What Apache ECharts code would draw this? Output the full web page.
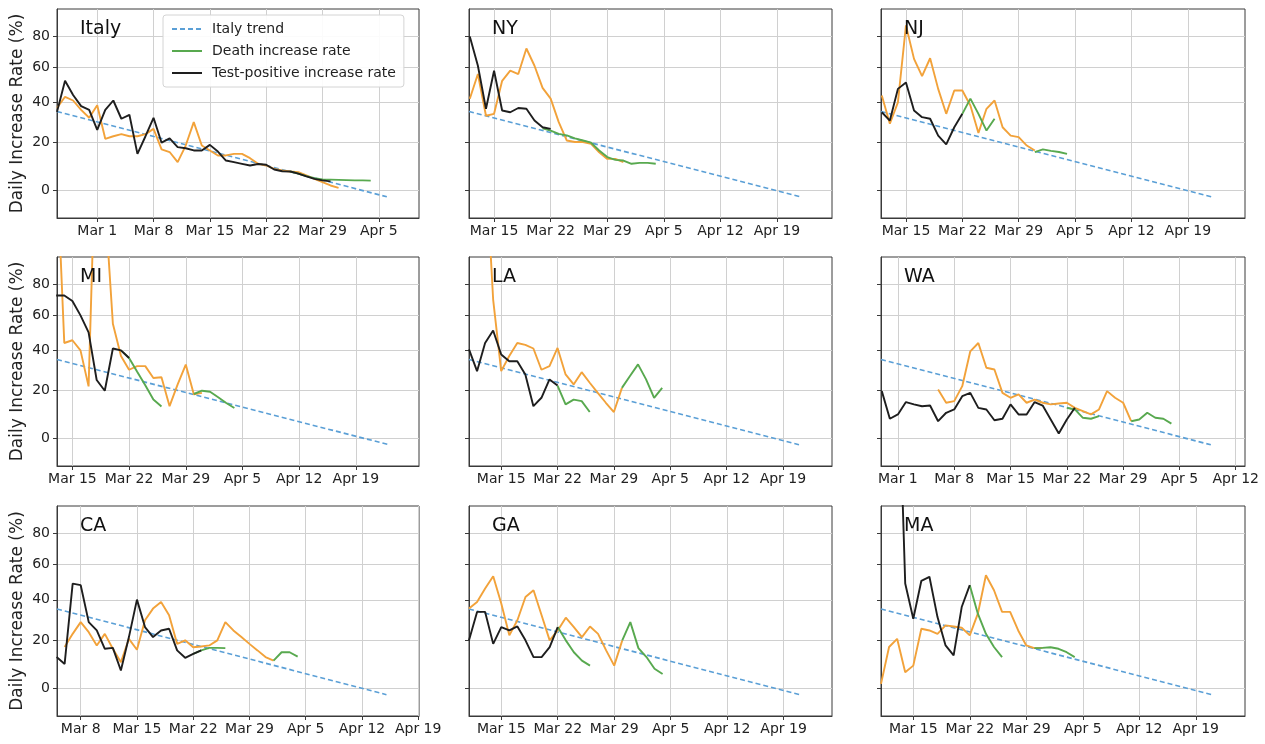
<!DOCTYPE html>
<html>
<head>
<meta charset="utf-8">
<title>Daily increase rate</title>
<script src="https://cdn.jsdelivr.net/npm/echarts@6/dist/echarts.min.js"></script>
<style>
  html, body { margin: 0; padding: 0; background: #fff; }
  #chart { width: 1265px; height: 744px; }
</style>
</head>
<body>
<div id="chart"></div>
<script>
// days are counted from Mar 1 (Mar 1 = 0, Apr 1 = 31)
const panels = ['Italy', 'NY', 'NJ', 'MI', 'LA', 'WA', 'CA', 'GA', 'MA'];
const dayMin = [-5, 10.9, 10.9, 12.1, 10, -2.1, 4.05, 10, 10];
const dayMax = [40, 55.8, 56.1, 56.8, 55.1, 43.15, 49.1, 55, 55.1];
const tickDays = [0, 7, 14, 21, 28, 35, 42, 49];
const yTicks = [0, 20, 40, 60, 80];

// Italy trend, redrawn from each panel's first day
const trendStart = 35.2;
const trendEnd = -2.4;
const trendDays = 41;

// first day of each series, per panel
const posFrom = [-5, 11, 11, 12, 10, -2, 4, 10, 12];
const lagFrom = [-5, 11, 11, 12, 12, 5, 5, 10, 10];
const deathFrom = [24, 20, 21, 20, 21, 21, 21, 21, 21];

// test-positive increase rate (%)
const italyPos = [35, 52, 44, 38, 36, 26, 36, 41, 31.5, 33.5, 15, 23, 32, 20, 22, 18, 17.5, 16.5, 16.5, 19, 16, 12.1, 11.4, 10.7, 10, 10.6, 10.3, 8.3, 7.6, 7.5, 6.6, 5.5, 4.5, 3.9, 3.5];
const nyPos = [80, 61, 36.6, 58, 35.7, 34.8, 37, 36.6, 30.6, 27.3, 26.5];
const njPos = [34.8, 30.6, 47.4, 51, 35.7, 32.3, 31.5, 23.3, 19.2, 27.3, 34];
const miPos = [72.6, 72.6, 69, 60, 50, 25, 20, 41, 40, 36];
const laPos = [40.5, 29.3, 44, 51, 37.8, 34.3, 34.3, 27.7, 13.1, 16.8, 25.3, 22.4];
const waPos = [19.8, 7.8, 9.6, 14.9, 13.9, 13.1, 13.4, 6.8, 10.3, 11.7, 17.5, 19, 12.4, 11.7, 7.2, 7.8, 13.9, 9.6, 9.6, 14.9, 13.4, 7.5, 1.9, 7.5, 12.4];
const caPos = [12.6, 9.7, 48.9, 48, 28.6, 24.6, 16.2, 16.6, 7, 21.5, 40.1, 26.2, 21.5, 24.6, 25.4, 15.5, 12.3, 14, 15.5];
const gaPos = [20, 33.7, 33.7, 18.4, 26.2, 24.6, 26.5, 20, 12.6, 12.6, 16.9, 26.2];
const maPos = [300, 49, 30.3, 50.5, 52.8, 31.1, 17.7, 13.3, 36.2, 48];

// orange curve (%)
const italyLag = [37, 43, 41, 36, 32, 38.5, 21.8, 23, 24, 23, 23, 24, 26.5, 17, 15.8, 11.4, 18.7, 29.8, 18.7, 16.5, 14.3, 14.3, 15, 15, 13.1, 10.7, 10, 8.6, 7.9, 7.5, 7.2, 5.9, 4.5, 3.2, 1.9, 1];
const nyLag = [41.9, 56, 33, 34, 52, 58, 56, 72, 61, 48, 42, 29.8, 21, 20.3, 20.3, 19.5, 15.7, 12.8, 12.8, 11.4];
const njLag = [43.7, 29, 40, 87.8, 65.3, 54.7, 65.7, 47.4, 34, 46.5, 46.5, 38.3, 24.5, 36.6, 41, 27.3, 23.3, 22.6, 18.7, 16.5];
const miLag = [200, 44, 45.5, 40, 22, 250, 150, 55, 37, 30, 31.8, 31.8, 26, 26.3, 13.1, 22.9, 32.6, 18.3, 19];
const laLag = [200, 70, 29.3, 37, 44, 43, 41, 30, 31.8, 41.3, 27.7, 22.9, 28.8, 23.7, 19, 14.6, 10.6, 21.3];
const waLag = [20.6, 14.6, 15.3, 22.1, 39.5, 44, 31, 30.1, 19, 16.8, 18.3, 14.6, 16, 14.6, 13.9, 14.3, 14.6, 12.4, 11, 9.6, 11.7, 19.8, 16.8, 14.6, 6.8];
const caLag = [17, 23, 28.6, 23.8, 17.7, 23, 16.2, 10.4, 20.7, 15.8, 29.5, 35.4, 38.8, 32, 18.4, 20, 16.9, 17.2, 17.7, 20, 28.6, 24.6, 21.5, 18.4, 15.5, 12.6, 11.1];
const gaLag = [35.4, 38.8, 46.1, 53.1, 38, 22.3, 29.5, 41.5, 45.2, 32, 20, 24.6, 30.8, 26.2, 21.5, 26.5, 23, 15.5, 9, 20];
const maLag = [1.7, 17, 20.7, 6.3, 9, 25.4, 24.6, 23, 27, 26.5, 25.9, 22.3, 32.8, 53.7, 45.2, 33.7, 33.7, 24.6, 17.7, 16.5, 16.6];

// death increase rate (%)
const italyDeath = [7.5, 6.6, 5.6, 4.8, 4.3, 4.2, 4.1, 4.0, 3.9, 3.9, 3.8];
const nyDeath = [26.8, 25.7, 24.1, 23.4, 22, 21, 20, 16.5, 13.6, 12.4, 12.1, 10.7, 11.1, 11.1, 10.7];
const njDeath = [34, 42, 34, 25.7, 31.5, null, null, null, null, 15.8, 17, 16.3, 15.8, 15];
const miDeath = [40, 36, 29, 22.5, 16, 13, null, null, null, 18.5, 20, 19.5, 17, 14.5, 12.3];
const laDeath = [22.4, 13.9, 16, 15.3, 10.6, null, null, null, 21.3, 26.9, 32.7, 25.3, 16.8, 21.3];
const waDeath = [12.4, 11.7, 8.2, 7.8, 8.9, null, null, null, 6.8, 7.5, 10.3, 8.2, 7.8, 5.8];
const caDeath = [14, 15.5, 16.6, 16.6, 16.5, null, null, null, null, null, 11.1, 14.7, 14.7, 12.8];
const gaDeath = [26.2, 20, 14.7, 11.1, 9, null, null, null, 20, 28.6, 16.5, 12.6, 7.7, 5.6];
const maDeath = [48, 32.8, 23, 17, 12.6, null, null, null, 16.5, 16.6, 16.9, 16.2, 14.7, 12.6];

const posData = [italyPos, nyPos, njPos, miPos, laPos, waPos, caPos, gaPos, maPos];
const lagData = [italyLag, nyLag, njLag, miLag, laLag, waLag, caLag, gaLag, maLag];
const deathData = [italyDeath, nyDeath, njDeath, miDeath, laDeath, waDeath, caDeath, gaDeath, maDeath];

// y axis is log(1 + rate)
const tr = v => Math.log(1 + v / 100);
const untr = y => (Math.exp(y) - 1) * 100;

const dayLabel = d => (d < 31 ? 'Mar ' + (d + 1) : 'Apr ' + (d - 30));
const pts = (from, vals) => vals.map((v, i) => [from + i, v == null ? '-' : tr(v)]);

const FONT = 'DejaVu Sans';
const colLeft = [57, 469, 881];
const colWidth = [362, 363, 364];
const rowTop = [9, 257, 506];
const rowHeight = [209, 209, 210];

const grid = [], xAxis = [], yAxis = [], series = [], title = [];

panels.forEach((name, i) => {
  const r = Math.floor(i / 3), c = i % 3;
  grid.push({
    left: colLeft[c], top: rowTop[r], width: colWidth[c], height: rowHeight[r],
    show: true, borderColor: '#3a3a3a', borderWidth: 1, backgroundColor: '#fff',
    outerBoundsMode: 'none'
  });
  xAxis.push({
    type: 'value', gridIndex: i, min: dayMin[i], max: dayMax[i],
    axisLine: { show: true, onZero: false, lineStyle: { color: '#3a3a3a' } },
    axisTick: { show: true, length: 4, customValues: tickDays, lineStyle: { color: '#3a3a3a' } },
    axisLabel: {
      customValues: tickDays, formatter: v => dayLabel(Math.round(v)),
      fontSize: 14, color: '#222', margin: 6, fontFamily: FONT
    },
    splitLine: { show: true, lineStyle: { color: '#d0d0d0', width: 1 } }
  });
  yAxis.push({
    type: 'value', gridIndex: i, min: tr(-10), max: tr(100),
    name: c === 0 ? 'Daily Increase Rate (%)' : '',
    nameLocation: 'middle', nameGap: 31, nameRotate: 90,
    nameTextStyle: { fontSize: 17, color: '#222', fontFamily: FONT },
    axisLine: { show: true, onZero: false, lineStyle: { color: '#3a3a3a' } },
    axisTick: { show: true, length: 4, customValues: yTicks.map(tr), lineStyle: { color: '#3a3a3a' } },
    axisLabel: {
      show: c === 0, customValues: yTicks.map(tr),
      formatter: v => String(Math.round(untr(v))),
      fontSize: 14, color: '#222', margin: 7, fontFamily: FONT
    },
    splitLine: { show: true, lineStyle: { color: '#d0d0d0', width: 1 } }
  });
  title.push({
    text: name, left: colLeft[c] + 23, top: rowTop[r] + 11, padding: 0,
    textStyle: { fontSize: 19, fontWeight: 'normal', color: '#111', fontFamily: FONT }
  });

  const base = { type: 'line', xAxisIndex: i, yAxisIndex: i, symbol: 'none', animation: false, clip: true };
  series.push(Object.assign({}, base, {
    name: 'Italy trend',
    data: [[dayMin[i], tr(trendStart)], [dayMin[i] + trendDays, tr(trendEnd)]],
    lineStyle: { color: '#5a9fd6', width: 1.6, type: [5, 3] }, itemStyle: { color: '#5a9fd6' }, z: 2
  }));
  series.push(Object.assign({}, base, {
    name: 'Lagged rate',
    data: pts(lagFrom[i], lagData[i]),
    lineStyle: { color: '#f2a23a', width: 1.9 }, itemStyle: { color: '#f2a23a' }, z: 3
  }));
  series.push(Object.assign({}, base, {
    name: 'Death increase rate',
    data: pts(deathFrom[i], deathData[i]),
    lineStyle: { color: '#58a94f', width: 1.9 }, itemStyle: { color: '#58a94f' }, z: 4
  }));
  series.push(Object.assign({}, base, {
    name: 'Test-positive increase rate',
    data: pts(posFrom[i], posData[i]),
    lineStyle: { color: '#1e1e1e', width: 1.9 }, itemStyle: { color: '#1e1e1e' }, z: 5
  }));
});

const chart = echarts.init(document.getElementById('chart'));
chart.setOption({
  animation: false,
  backgroundColor: '#fff',
  title: title,
  legend: {
    data: ['Italy trend', 'Death increase rate', 'Test-positive increase rate'],
    orient: 'vertical', left: 163, top: 15,
    padding: [7, 8, 7, 8], itemGap: 8, itemWidth: 30, itemHeight: 14,
    itemStyle: { opacity: 0 },
    backgroundColor: 'rgba(255,255,255,0.9)', borderColor: '#d4d4d4', borderWidth: 1, borderRadius: 3,
    textStyle: { fontSize: 14, color: '#222', fontFamily: FONT, padding: [0, 0, 0, 5] }
  },
  grid: grid,
  xAxis: xAxis,
  yAxis: yAxis,
  series: series
});
</script>
</body>
</html>
